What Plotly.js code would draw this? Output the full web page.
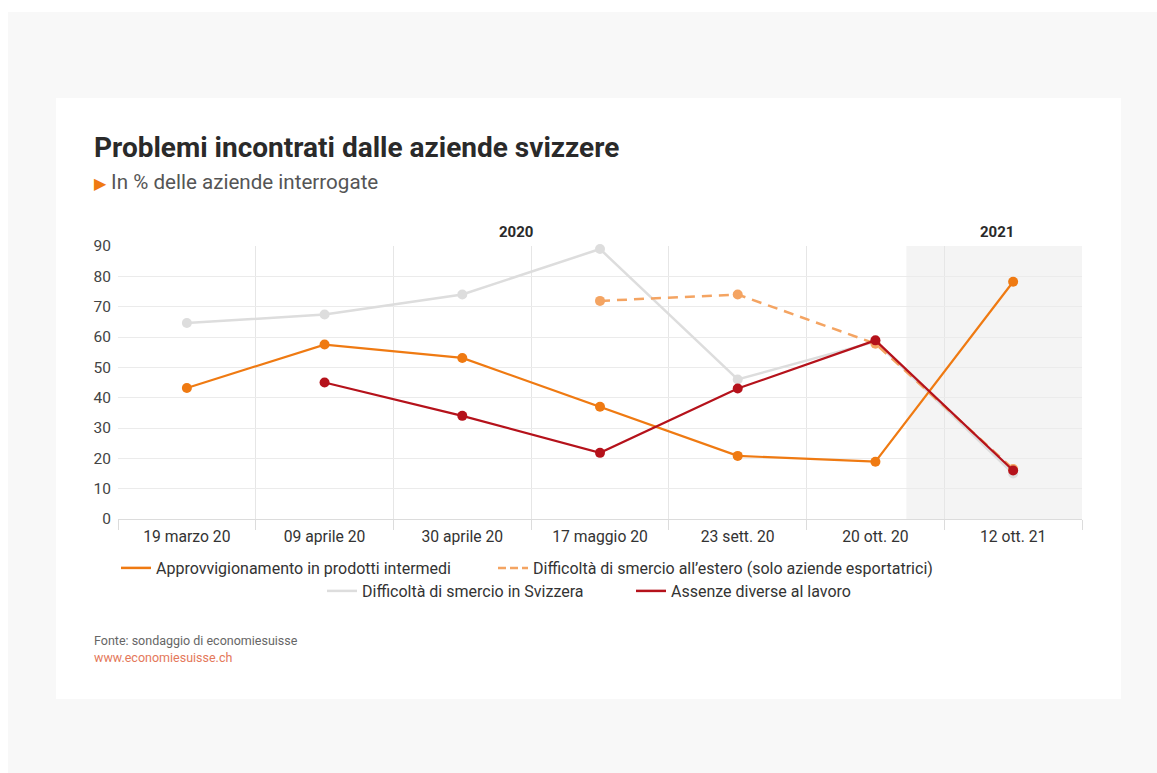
<!DOCTYPE html>
<html>
<head>
<meta charset="utf-8">
<script src="https://cdn.plot.ly/plotly-3.0.1.min.js"></script>
<style>
  html, body { margin:0; padding:0; background:#ffffff; width:1157px; height:773px; overflow:hidden; }
  #outer { position:absolute; left:8px; top:12px; width:1149px; height:761px; background:#f8f8f8; }
  #card { position:absolute; left:56px; top:98px; width:1065px; height:601px; background:#ffffff; }
  #chart { position:absolute; left:0; top:0; width:1065px; height:601px; }
</style>
</head>
<body>
<div id="outer"></div>
<div id="card"><div id="chart"></div></div>
<script>
const categories = ["19 marzo 20", "09 aprile 20", "30 aprile 20", "17 maggio 20", "23 sett. 20", "20 ott. 20", "12 ott. 21"];
const approvvigionamento = [43.2, 57.5, 53.1, 37, 20.8, 18.9, 78.2];
const smercioEstero = [null, null, null, 71.9, 74, 57.8, 16.5];
const smercioSvizzera = [64.6, 67.4, 74, 89, 46, 58.5, 15];
const assenze = [null, 45, 34, 21.8, 43, 58.9, 16];
const seriesNames = [
  "Approvvigionamento in prodotti intermedi",
  "Difficoltà di smercio all’estero (solo aziende esportatrici)",
  "Difficoltà di smercio in Svizzera",
  "Assenze diverse al lavoro"
];
const yearLabels = ["2020", "2021"];

const FONT = "Roboto, 'Open Sans', sans-serif";
const C_ORANGE = "#ef7a12";
const C_LIGHT = "#f4a462";
const C_GRAY = "#dddddd";
const C_RED = "#b5121b";

const traces = [
  { x: categories, y: smercioSvizzera, name: seriesNames[2], type: "scatter", mode: "lines+markers", cliponaxis: false,
    line: { color: C_GRAY, width: 2.5 }, marker: { color: C_GRAY, size: 10 }, showlegend: false },
  { x: categories, y: smercioEstero, name: seriesNames[1], type: "scatter", mode: "lines+markers", cliponaxis: false,
    line: { color: C_LIGHT, width: 2.5, dash: "10px,7px" }, marker: { color: C_LIGHT, size: 10 }, showlegend: false },
  { x: categories, y: approvvigionamento, name: seriesNames[0], type: "scatter", mode: "lines+markers", cliponaxis: false,
    line: { color: C_ORANGE, width: 2.2 }, marker: { color: C_ORANGE, size: 10 }, showlegend: false },
  { x: categories, y: assenze, name: seriesNames[3], type: "scatter", mode: "lines+markers", cliponaxis: false,
    line: { color: C_RED, width: 2.2 }, marker: { color: C_RED, size: 10 }, showlegend: false },
  // legend entries (lines only, as in the original legend)
  { x: [null], y: [null], name: seriesNames[0], type: "scatter", mode: "lines",
    line: { color: C_ORANGE, width: 2.5 }, legend: "legend" },
  { x: [null], y: [null], name: seriesNames[1], type: "scatter", mode: "lines",
    line: { color: C_LIGHT, width: 2.5, dash: "8px,4px" }, legend: "legend2" },
  { x: [null], y: [null], name: seriesNames[2], type: "scatter", mode: "lines",
    line: { color: C_GRAY, width: 2.5 }, legend: "legend3" },
  { x: [null], y: [null], name: seriesNames[3], type: "scatter", mode: "lines",
    line: { color: C_RED, width: 2.5 }, legend: "legend4" }
];

// pixel helpers relative to plot area (118..1082 x, 246..519 y in page)
const PL = 118, PR = 1082, PT = 246, PB = 519;
const px = X => (X - PL) / (PR - PL);
const py = Y => (PB - Y) / (PB - PT);

const legendBase = X => ({
  orientation: "h", x: px(X), xanchor: "left", yanchor: "middle",
  font: { family: FONT, size: 16, color: "#333333" }, bgcolor: "rgba(0,0,0,0)"
});

const layout = {
  width: 1065, height: 601,
  margin: { l: 62, r: 39, t: 148, b: 180 },
  paper_bgcolor: "#ffffff", plot_bgcolor: "rgba(0,0,0,0)",
  font: { family: FONT, color: "#333333", size: 15 },
  showlegend: true,
  xaxis: {
    type: "category", range: [-0.5, 6.5], tickson: "boundaries",
    ticks: "outside", ticklen: 10, tickcolor: "#dcdcdc", tickwidth: 1,
    showgrid: true, gridcolor: "#e6e6e6", gridwidth: 1,
    showline: true, linecolor: "#dcdcdc", linewidth: 1, ticklabelstandoff: 3,
    tickfont: { family: FONT, size: 15.7, color: "#333333" }, fixedrange: true, zeroline: false
  },
  yaxis: {
    range: [0, 90], dtick: 10, tick0: 0, showgrid: true, gridcolor: "#ebebeb", gridwidth: 1,
    zeroline: true, zerolinecolor: "#dcdcdc", zerolinewidth: 1, ticklabelstandoff: 6,
    tickfont: { family: FONT, size: 15.5, color: "#444444" }, ticks: "", fixedrange: true
  },
  legend: Object.assign(legendBase(116), { y: py(568) }),
  legend2: Object.assign(legendBase(493), { y: py(568) }),
  legend3: Object.assign(legendBase(322), { y: py(591) }),
  legend4: Object.assign(legendBase(631), { y: py(591) }),
  shapes: [
    { type: "rect", xref: "x", yref: "paper", x0: 5.225, x1: 6.5, y0: 0, y1: 1,
      fillcolor: "#f4f4f4", line: { width: 0 }, layer: "below" }
  ],
  annotations: [
    { text: "<b>Problemi incontrati dalle aziende svizzere</b>", xref: "paper", yref: "paper",
      x: px(92), y: py(148), xanchor: "left", yanchor: "middle", showarrow: false,
      font: { family: FONT, size: 28, color: "#2a2a2a" } },
    { text: "<span style=\"color:" + C_ORANGE + ";font-size:16px\">▶</span> In % delle aziende interrogate", xref: "paper", yref: "paper",
      x: px(92), y: py(182), xanchor: "left", yanchor: "middle", showarrow: false,
      font: { family: FONT, size: 20.6, color: "#555555" } },
    { text: "<b>" + yearLabels[0] + "</b>", xref: "paper", yref: "paper", x: px(516), y: py(232),
      xanchor: "center", yanchor: "middle", showarrow: false, font: { family: FONT, size: 15, color: "#2a2a2a" } },
    { text: "<b>" + yearLabels[1] + "</b>", xref: "paper", yref: "paper", x: px(997), y: py(232),
      xanchor: "center", yanchor: "middle", showarrow: false, font: { family: FONT, size: 15, color: "#2a2a2a" } },
    { text: "Fonte: sondaggio di economiesuisse", xref: "paper", yref: "paper", x: px(92), y: py(640),
      xanchor: "left", yanchor: "middle", showarrow: false, font: { family: FONT, size: 12.5, color: "#666666" } },
    { text: "www.economiesuisse.ch", xref: "paper", yref: "paper", x: px(92), y: py(657),
      xanchor: "left", yanchor: "middle", showarrow: false, font: { family: FONT, size: 12.5, color: "#e4785a" } }
  ]
};

Plotly.newPlot("chart", traces, layout, { displayModeBar: false, staticPlot: true });
</script>
</body>
</html>
